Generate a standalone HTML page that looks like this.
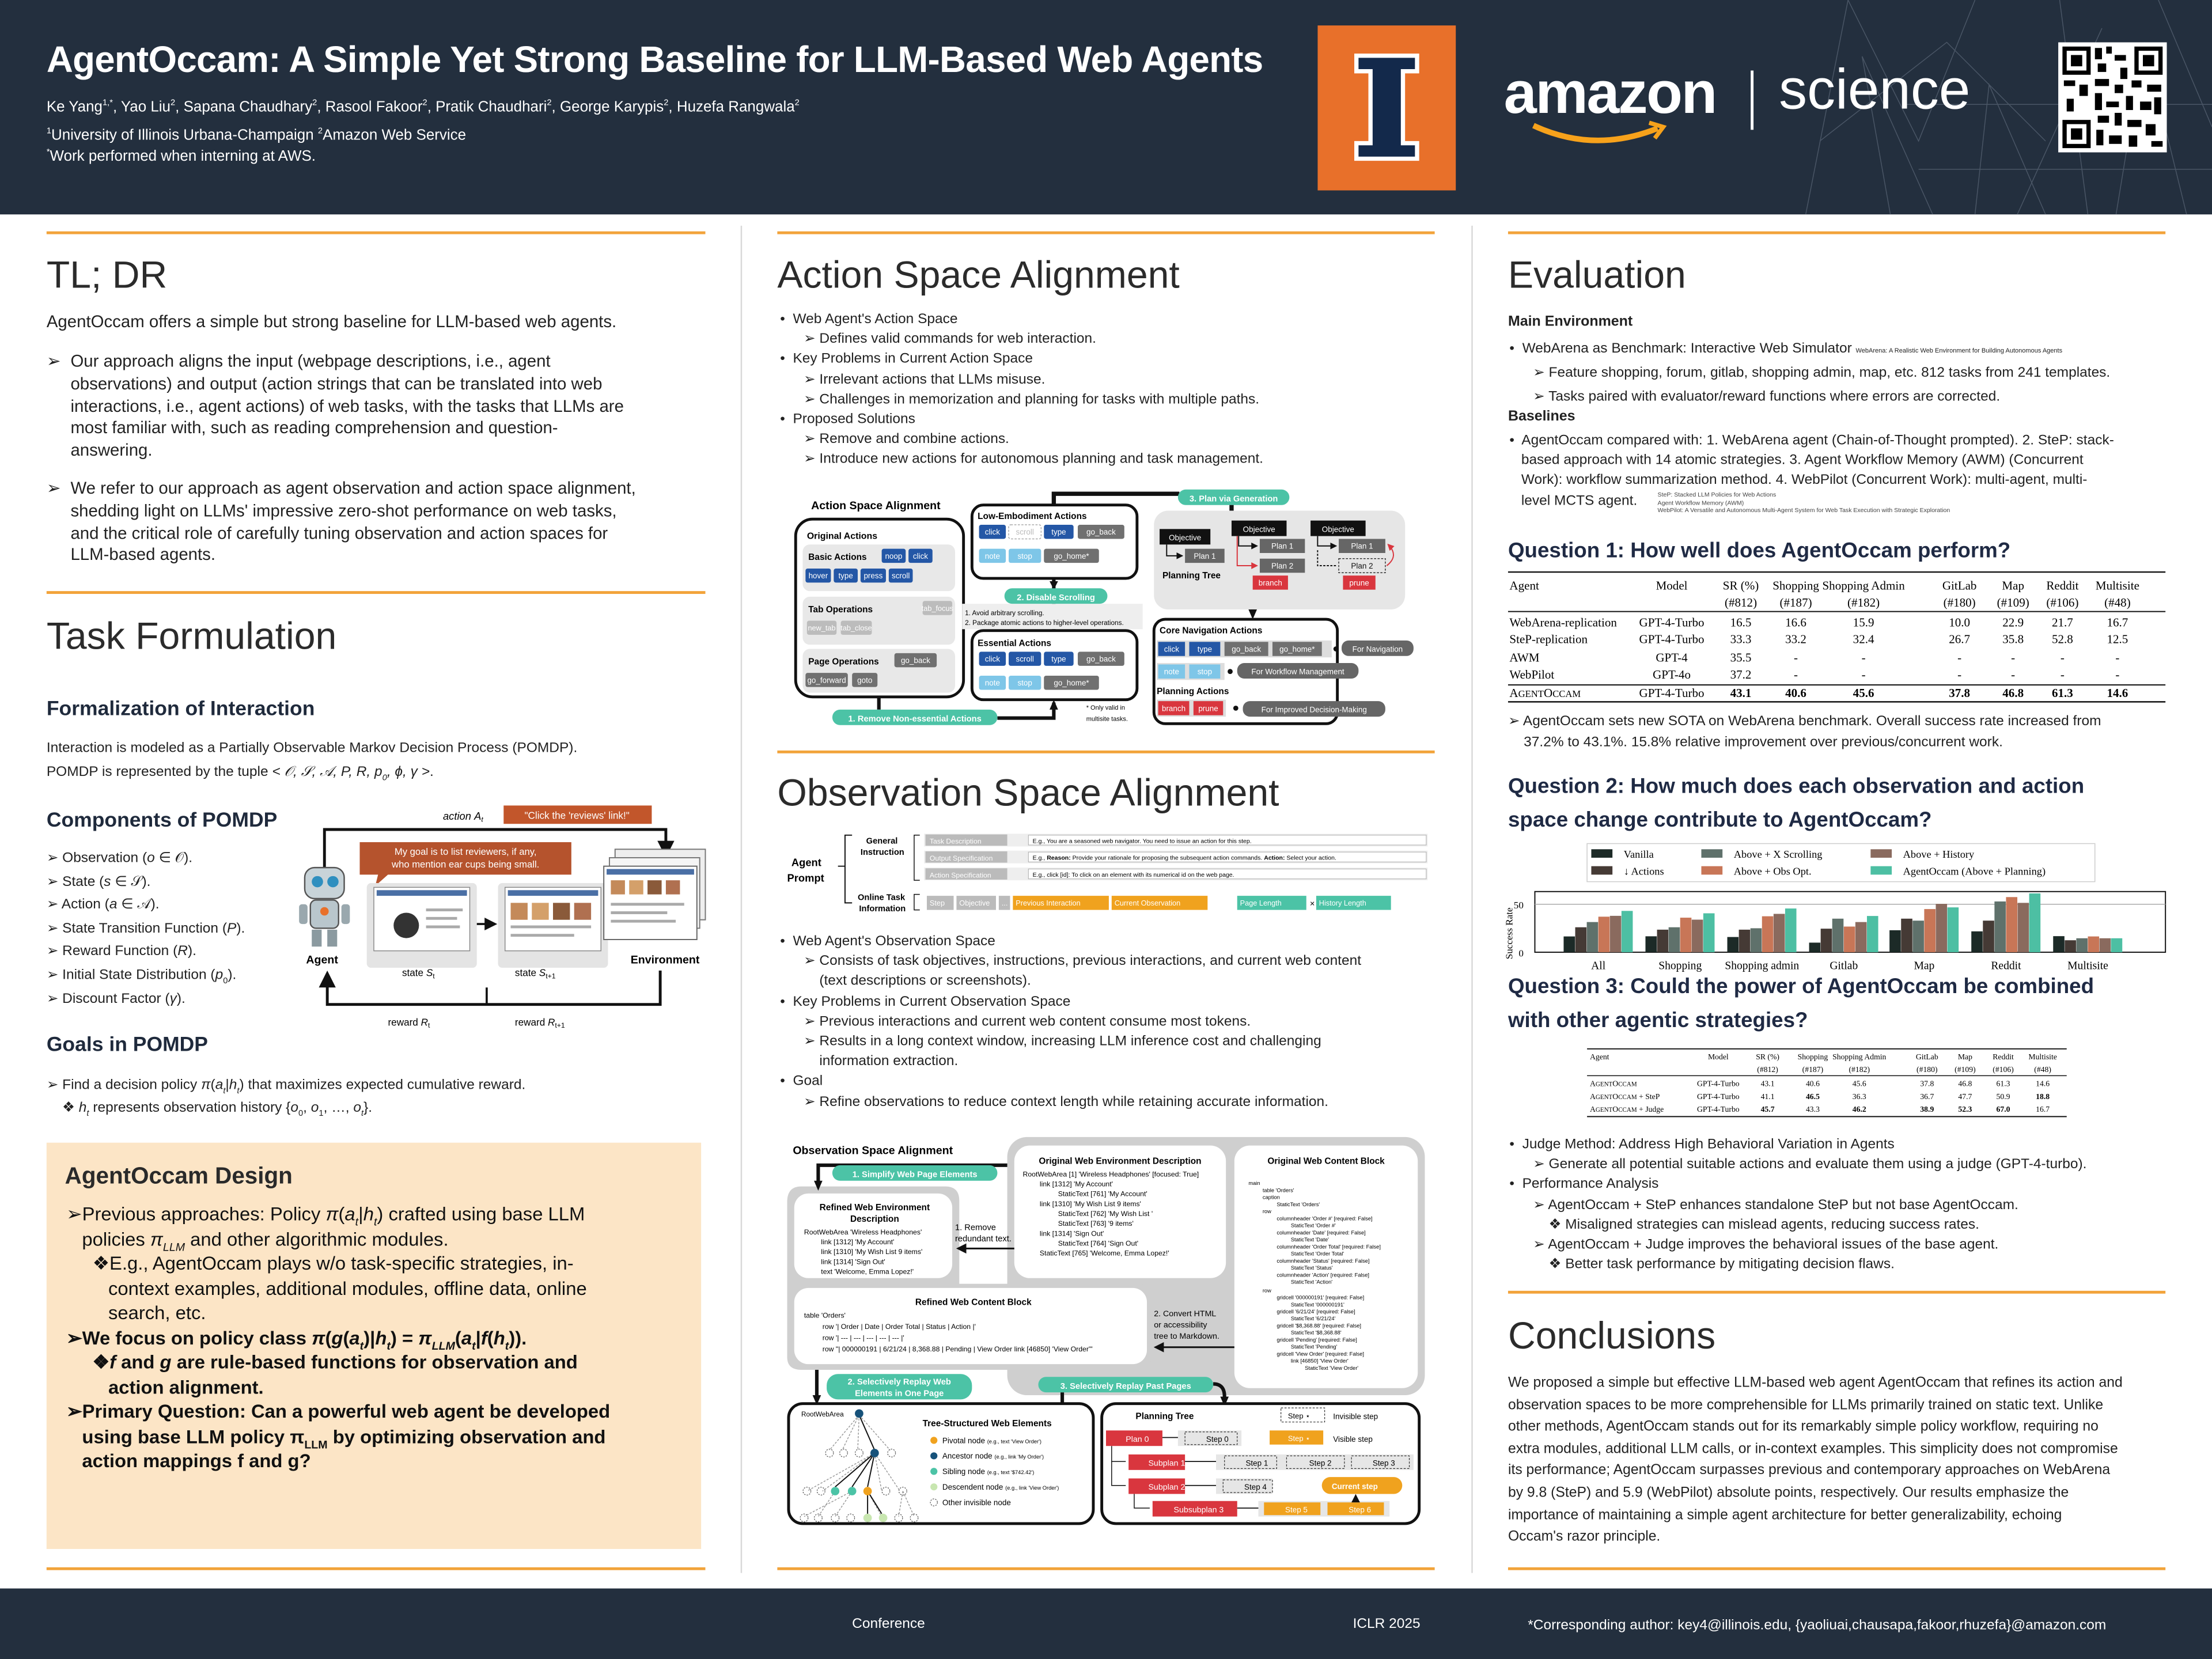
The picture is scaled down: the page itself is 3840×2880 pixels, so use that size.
<!DOCTYPE html>
<html><head><meta charset="utf-8">
<style>
html,body{margin:0;padding:0;background:#fff;}
body{width:3840px;height:2880px;overflow:hidden;}
#p{position:absolute;left:0;top:0;width:1568px;height:1176px;transform:scale(2.44898);transform-origin:0 0;background:#fff;font-family:"Liberation Sans",sans-serif;color:#222;overflow:hidden;}
sub,sup{line-height:0;}
.a{position:absolute;white-space:nowrap;}
.h1{font-size:27px;color:#2b2b2b;}
.h2{font-size:14.5px;font-weight:bold;color:#1f2a3c;}
.q{font-size:15px;font-weight:bold;color:#1f2a44;line-height:24px;}
.b10{font-size:10px;line-height:14.2px;color:#222;}
.b12{font-size:12px;line-height:15.8px;color:#222;}
.ol{position:absolute;height:2px;background:#f2a33a;}
</style></head><body><div id="p">

<!-- header -->
<div class="a" style="left:0;top:0;width:1568px;height:152px;background:#232f3e;"></div>
<svg class="a" style="left:1250px;top:0" width="318" height="152"><g stroke="#4a5666" stroke-width="0.6" fill="none">
<path d="M30 152 L60 0 M90 152 L70 40 L120 152 M150 152 L160 60 L200 152 M210 0 L230 152 M250 152 L270 30 L300 152 M280 0 L318 90 M60 0 L110 100 L150 0 M180 152 L240 20 M100 74 L318 74 M110 120 L318 120 M40 100 L130 30 L200 100"/></g></svg>
<div class="a" style="left:33px;top:27px;font-size:26px;font-weight:bold;color:#fff;letter-spacing:-0.3px;">AgentOccam: A Simple Yet Strong Baseline for LLM-Based Web Agents</div>
<div class="a" style="left:33px;top:70px;font-size:10.6px;color:#fff;">Ke Yang<sup style="font-size:6px">1,*</sup>, Yao Liu<sup style="font-size:6px">2</sup>, Sapana Chaudhary<sup style="font-size:6px">2</sup>, Rasool Fakoor<sup style="font-size:6px">2</sup>, Pratik Chaudhari<sup style="font-size:6px">2</sup>, George Karypis<sup style="font-size:6px">2</sup>, Huzefa Rangwala<sup style="font-size:6px">2</sup></div>
<div class="a" style="left:33px;top:90px;font-size:10.6px;color:#fff;"><sup style="font-size:6px">1</sup>University of Illinois Urbana-Champaign <sup style="font-size:6px">2</sup>Amazon Web Service</div>
<div class="a" style="left:33px;top:105px;font-size:10.6px;color:#fff;"><sup style="font-size:6px">*</sup>Work performed when interning at AWS.</div>
<svg class="a" style="left:934px;top:18px" width="98" height="117">
<rect width="98" height="117" fill="#e8702a"/>
<path d="M26 20 H72 V34 H62 V82 H72 V96 H26 V82 H36 V34 H26 Z" fill="#fff"/>
<path d="M29 23 H69 V31 H59 V85 H69 V93 H29 V85 H39 V31 H29 Z" fill="#13294b"/>
</svg>
<div class="a" style="left:1066px;top:42px;font-size:42px;font-weight:bold;color:#fff;letter-spacing:-1px;">amazon</div>
<svg class="a" style="left:1085px;top:85px" width="100" height="22"><path d="M2 4 Q45 24 90 6" stroke="#f7a21b" stroke-width="4" fill="none"/><path d="M84 2 L94 5 L88 13" stroke="#f7a21b" stroke-width="3" fill="none"/></svg>
<div class="a" style="left:1241px;top:50px;width:1.5px;height:42px;background:#fff;"></div>
<div class="a" style="left:1261px;top:42px;font-size:40px;color:#fff;">science</div>
<svg class="a" style="left:1459px;top:30px" width="77" height="78">
<rect width="77" height="78" fill="#fff"/>
<g fill="#000">
<rect x="3" y="3" width="20" height="20"/><rect x="54" y="3" width="20" height="20"/><rect x="3" y="55" width="20" height="20"/>
<rect x="26" y="4" width="5" height="8"/><rect x="34" y="3" width="4" height="5"/><rect x="40" y="9" width="8" height="4"/><rect x="28" y="15" width="6" height="6"/><rect x="44" y="18" width="5" height="8"/>
<rect x="4" y="27" width="8" height="4"/><rect x="15" y="30" width="6" height="8"/><rect x="26" y="26" width="10" height="5"/><rect x="40" y="30" width="6" height="6"/><rect x="52" y="27" width="7" height="5"/><rect x="63" y="30" width="10" height="5"/>
<rect x="6" y="40" width="5" height="9"/><rect x="26" y="36" width="5" height="12"/><rect x="34" y="42" width="9" height="4"/><rect x="48" y="38" width="5" height="10"/><rect x="58" y="42" width="8" height="6"/><rect x="68" y="39" width="5" height="12"/>
<rect x="28" y="52" width="8" height="5"/><rect x="40" y="50" width="5" height="9"/><rect x="49" y="55" width="10" height="5"/><rect x="62" y="58" width="7" height="8"/><rect x="27" y="62" width="5" height="11"/><rect x="36" y="66" width="9" height="6"/><rect x="50" y="66" width="6" height="8"/><rect x="66" y="70" width="8" height="4"/>
</g>
<g fill="#fff"><rect x="6" y="6" width="14" height="14"/><rect x="57" y="6" width="14" height="14"/><rect x="6" y="58" width="14" height="14"/></g>
<g fill="#000"><rect x="9" y="9" width="8" height="8"/><rect x="60" y="9" width="8" height="8"/><rect x="9" y="61" width="8" height="8"/></g>
</svg>

<!-- footer -->
<div class="a" style="left:0;top:1126px;width:1568px;height:50px;background:#232f3e;"></div>
<div class="a" style="left:604px;top:1146px;font-size:10px;color:#fff;">Conference</div>
<div class="a" style="left:959px;top:1146px;font-size:10px;color:#fff;">ICLR 2025</div>
<div class="a" style="left:1083px;top:1147px;font-size:10px;color:#fff;">*Corresponding author: key4@illinois.edu, {yaoliuai,chausapa,fakoor,rhuzefa}@amazon.com</div>

<!-- separators -->
<div class="a" style="left:525px;top:160px;width:1px;height:955px;background:#d8d8d8;"></div>
<div class="a" style="left:1043px;top:160px;width:1px;height:955px;background:#d8d8d8;"></div>
<div class="ol" style="left:33px;top:164px;width:467px;"></div>
<div class="ol" style="left:551px;top:164px;width:466px;"></div>
<div class="ol" style="left:1069px;top:164px;width:466px;"></div>
<div class="ol" style="left:33px;top:419px;width:467px;"></div>
<div class="ol" style="left:551px;top:532px;width:466px;"></div>
<div class="ol" style="left:1069px;top:915px;width:466px;"></div>
<div class="ol" style="left:33px;top:1111px;width:467px;"></div>
<div class="ol" style="left:551px;top:1111px;width:466px;"></div>
<div class="ol" style="left:1069px;top:1111px;width:466px;"></div>

<!-- COLUMN 1 -->
<div class="a h1" style="left:33px;top:180px;">TL; DR</div>
<div class="a b12" style="left:33px;top:221px;">AgentOccam offers a simple but strong baseline for LLM-based web agents.</div>
<div class="a b12" style="left:33px;top:249px;">➢</div>
<div class="a b12" style="left:50px;top:249px;">Our approach aligns the input (webpage descriptions, i.e., agent<br>observations) and output (action strings that can be translated into web<br>interactions, i.e., agent actions) of web tasks, with the tasks that LLMs are<br>most familiar with, such as reading comprehension and question-<br>answering.</div>
<div class="a b12" style="left:33px;top:339px;">➢</div>
<div class="a b12" style="left:50px;top:339px;">We refer to our approach as agent observation and action space alignment,<br>shedding light on LLMs' impressive zero-shot performance on web tasks,<br>and the critical role of carefully tuning observation and action spaces for<br>LLM-based agents.</div>

<div class="a h1" style="left:33px;top:436px;">Task Formulation</div>
<div class="a h2" style="left:33px;top:495px;">Formalization of Interaction</div>
<div class="a b10" style="left:33px;top:523px;line-height:16.5px;">Interaction is modeled as a Partially Observable Markov Decision Process (POMDP).<br>POMDP is represented by the tuple <i>&lt; 𝒪, 𝒮, 𝒜, P, R, p<sub style="font-size:6px">0</sub>, ϕ, γ &gt;</i>.</div>
<div class="a h2" style="left:33px;top:574px;">Components of POMDP</div>
<div class="a b10" style="left:33px;top:601px;line-height:16.6px;">➢ Observation (<i>o</i> ∈ 𝒪).<br>➢ State (<i>s</i> ∈ 𝒮).<br>➢ Action (<i>a</i> ∈ 𝒜).<br>➢ State Transition Function (<i>P</i>).<br>➢ Reward Function (<i>R</i>).<br>➢ Initial State Distribution (<i>p</i><sub style="font-size:6px">0</sub>).<br>➢ Discount Factor (<i>γ</i>).</div>
<div class="a h2" style="left:33px;top:733px;">Goals in POMDP</div>
<div class="a b10" style="left:33px;top:762px;line-height:16px;">➢ Find a decision policy <i>π</i>(<i>a<sub style="font-size:6px">t</sub></i>|<i>h<sub style="font-size:6px">t</sub></i>) that maximizes expected cumulative reward.<br>&nbsp;&nbsp;&nbsp;&nbsp;❖ <i>h<sub style="font-size:6px">t</sub></i> represents observation history {<i>o</i><sub style="font-size:6px">0</sub>, <i>o</i><sub style="font-size:6px">1</sub>, …, <i>o<sub style="font-size:6px">t</sub></i>}.</div>

<div class="a" style="left:33px;top:810px;width:464px;height:288px;background:#fce5c6;"></div>
<div class="a" style="left:46px;top:825px;font-size:16.5px;font-weight:bold;color:#2a2a2a;">AgentOccam Design</div>
<div class="a" style="left:47px;top:852px;font-size:13.4px;line-height:17.5px;color:#111;">➢Previous approaches: Policy <i>π</i>(<i>a<sub style="font-size:8px">t</sub></i>|<i>h<sub style="font-size:8px">t</sub></i>) crafted using base LLM<br>&nbsp;&nbsp;&nbsp;policies <i>π<sub style="font-size:8px">LLM</sub></i> and other algorithmic modules.<br>&nbsp;&nbsp;&nbsp;&nbsp;&nbsp;❖E.g., AgentOccam plays w/o task-specific strategies, in-<br>&nbsp;&nbsp;&nbsp;&nbsp;&nbsp;&nbsp;&nbsp;&nbsp;context examples, additional modules, offline data, online<br>&nbsp;&nbsp;&nbsp;&nbsp;&nbsp;&nbsp;&nbsp;&nbsp;search, etc.<br><b>➢We focus on policy class <i>π</i>(<i>g</i>(<i>a<sub style="font-size:8px">t</sub></i>)|<i>h<sub style="font-size:8px">t</sub></i>) = <i>π<sub style="font-size:8px">LLM</sub></i>(<i>a<sub style="font-size:8px">t</sub></i>|<i>f</i>(<i>h<sub style="font-size:8px">t</sub></i>)).<br>&nbsp;&nbsp;&nbsp;&nbsp;&nbsp;❖<i>f</i> and <i>g</i> are rule-based functions for observation and<br>&nbsp;&nbsp;&nbsp;&nbsp;&nbsp;&nbsp;&nbsp;&nbsp;action alignment.<br>➢Primary Question: Can a powerful web agent be developed<br>&nbsp;&nbsp;&nbsp;using base LLM policy π<sub style="font-size:8px">LLM</sub> by optimizing observation and<br>&nbsp;&nbsp;&nbsp;action mappings f and g?</b></div>

<!-- COLUMN 2 -->
<div class="a h1" style="left:551px;top:180px;">Action Space Alignment</div>
<div class="a b10" style="left:553px;top:220px;">•&nbsp; Web Agent's Action Space<br>&nbsp;&nbsp;&nbsp;&nbsp;&nbsp;&nbsp;➢ Defines valid commands for web interaction.<br>•&nbsp; Key Problems in Current Action Space<br>&nbsp;&nbsp;&nbsp;&nbsp;&nbsp;&nbsp;➢ Irrelevant actions that LLMs misuse.<br>&nbsp;&nbsp;&nbsp;&nbsp;&nbsp;&nbsp;➢ Challenges in memorization and planning for tasks with multiple paths.<br>•&nbsp; Proposed Solutions<br>&nbsp;&nbsp;&nbsp;&nbsp;&nbsp;&nbsp;➢ Remove and combine actions.<br>&nbsp;&nbsp;&nbsp;&nbsp;&nbsp;&nbsp;➢ Introduce new actions for autonomous planning and task management.</div>
<div class="a h1" style="left:551px;top:547px;">Observation Space Alignment</div>
<div class="a b10" style="left:553px;top:661px;">•&nbsp; Web Agent's Observation Space<br>&nbsp;&nbsp;&nbsp;&nbsp;&nbsp;&nbsp;➢ Consists of task objectives, instructions, previous interactions, and current web content<br>&nbsp;&nbsp;&nbsp;&nbsp;&nbsp;&nbsp;&nbsp;&nbsp;&nbsp;&nbsp;(text descriptions or screenshots).<br>•&nbsp; Key Problems in Current Observation Space<br>&nbsp;&nbsp;&nbsp;&nbsp;&nbsp;&nbsp;➢ Previous interactions and current web content consume most tokens.<br>&nbsp;&nbsp;&nbsp;&nbsp;&nbsp;&nbsp;➢ Results in a long context window, increasing LLM inference cost and challenging<br>&nbsp;&nbsp;&nbsp;&nbsp;&nbsp;&nbsp;&nbsp;&nbsp;&nbsp;&nbsp;information extraction.<br>•&nbsp; Goal<br>&nbsp;&nbsp;&nbsp;&nbsp;&nbsp;&nbsp;➢ Refine observations to reduce context length while retaining accurate information.</div>

<!-- COLUMN 3 -->
<div class="a h1" style="left:1069px;top:180px;">Evaluation</div>
<div class="a" style="left:1069px;top:223px;font-size:10.2px;font-weight:bold;">Main Environment</div>
<div class="a b10" style="left:1070px;top:240px;line-height:16.3px;">•&nbsp; WebArena as Benchmark: Interactive Web Simulator <span style="font-size:4.5px">WebArena: A Realistic Web Environment for Building Autonomous Agents</span><br>&nbsp;&nbsp;&nbsp;&nbsp;&nbsp;&nbsp;➢ Feature shopping, forum, gitlab, shopping admin, map, etc. 812 tasks from 241 templates.<br>&nbsp;&nbsp;&nbsp;&nbsp;&nbsp;&nbsp;➢ Tasks paired with evaluator/reward functions where errors are corrected.</div>
<div class="a" style="left:1069px;top:290px;font-size:10.2px;font-weight:bold;">Baselines</div>
<div class="a b10" style="left:1070px;top:306px;">•&nbsp; AgentOccam compared with: 1. WebArena agent (Chain-of-Thought prompted). 2. SteP: stack-<br>&nbsp;&nbsp;&nbsp;based approach with 14 atomic strategies. 3. Agent Workflow Memory (AWM) (Concurrent<br>&nbsp;&nbsp;&nbsp;Work): workflow summarization method. 4. WebPilot (Concurrent Work): multi-agent, multi-<br>&nbsp;&nbsp;&nbsp;level MCTS agent.</div>
<div class="a" style="left:1175px;top:348px;font-size:4.3px;line-height:5.5px;color:#444;">SteP: Stacked LLM Policies for Web Actions<br>Agent Workflow Memory (AWM)<br>WebPilot: A Versatile and Autonomous Multi-Agent System for Web Task Execution with Strategic Exploration</div>
<div class="a q" style="left:1069px;top:379px;">Question 1: How well does AgentOccam perform?</div>
<div class="a b10" style="left:1069px;top:504px;line-height:15px;">➢ AgentOccam sets new SOTA on WebArena benchmark. Overall success rate increased from<br>&nbsp;&nbsp;&nbsp;&nbsp;37.2% to 43.1%. 15.8% relative improvement over previous/concurrent work.</div>
<div class="a q" style="left:1069px;top:546px;">Question 2: How much does each observation and action<br>space change contribute to AgentOccam?</div>
<div class="a q" style="left:1069px;top:688px;">Question 3: Could the power of AgentOccam be combined<br>with other agentic strategies?</div>
<div class="a b10" style="left:1070px;top:805px;">•&nbsp; Judge Method: Address High Behavioral Variation in Agents<br>&nbsp;&nbsp;&nbsp;&nbsp;&nbsp;&nbsp;➢ Generate all potential suitable actions and evaluate them using a judge (GPT-4-turbo).<br>•&nbsp; Performance Analysis<br>&nbsp;&nbsp;&nbsp;&nbsp;&nbsp;&nbsp;➢ AgentOccam + SteP enhances standalone SteP but not base AgentOccam.<br>&nbsp;&nbsp;&nbsp;&nbsp;&nbsp;&nbsp;&nbsp;&nbsp;&nbsp;&nbsp;❖ Misaligned strategies can mislead agents, reducing success rates.<br>&nbsp;&nbsp;&nbsp;&nbsp;&nbsp;&nbsp;➢ AgentOccam + Judge improves the behavioral issues of the base agent.<br>&nbsp;&nbsp;&nbsp;&nbsp;&nbsp;&nbsp;&nbsp;&nbsp;&nbsp;&nbsp;❖ Better task performance by mitigating decision flaws.</div>
<div class="a h1" style="left:1069px;top:932px;">Conclusions</div>
<div class="a" style="left:1069px;top:973px;font-size:10.1px;line-height:15.6px;color:#222;">We proposed a simple but effective LLM-based web agent AgentOccam that refines its action and<br>observation spaces to be more comprehensible for LLMs primarily trained on static text. Unlike<br>other methods, AgentOccam stands out for its remarkably simple policy workflow, requiring no<br>extra modules, additional LLM calls, or in-context examples. This simplicity does not compromise<br>its performance; AgentOccam surpasses previous and contemporary approaches on WebArena<br>by 9.8 (SteP) and 5.9 (WebPilot) absolute points, respectively. Our results emphasize the<br>importance of maintaining a simple agent architecture for better generalizability, echoing<br>Occam's razor principle.</div>

<!-- ALL DIAGRAMS -->
<svg class="a" style="left:0;top:0" width="1568" height="1176" font-family="Liberation Sans, sans-serif">
<defs>
<marker id="ar" markerWidth="6" markerHeight="6" refX="5" refY="3" orient="auto"><path d="M0 0 L6 3 L0 6 Z" fill="#111"/></marker>
<marker id="arr" markerWidth="6" markerHeight="6" refX="5" refY="3" orient="auto"><path d="M0 0 L6 3 L0 6 Z" fill="#d9363e"/></marker>
</defs>

<!-- POMDP figure -->
<g>
<path d="M230 615 V588 H472 V606" stroke="#111" stroke-width="2" fill="none" marker-end="url(#ar)"/>
<text x="314" y="581" font-size="7.5" font-style="italic">action <tspan>A</tspan><tspan font-size="5" dy="1.5">t</tspan></text>
<rect x="357" y="571" width="105" height="13" fill="#c2562b"/>
<text x="409" y="580.5" font-size="7" fill="#fff" text-anchor="middle">"Click the 'reviews' link!"</text>
<path d="M255 597 H405 V620 H275 L266 628 L268 620 H255 Z" fill="#b5532d"/>
<text x="330" y="606" font-size="6.8" fill="#fff" text-anchor="middle">My goal is to list reviewers, if any,</text>
<text x="330" y="615" font-size="6.8" fill="#fff" text-anchor="middle">who mention ear cups being small.</text>
<rect x="216" y="615" width="28" height="22" rx="7" fill="#c8d3d8" stroke="#555" stroke-width="1"/>
<circle cx="225" cy="625" r="4" fill="#2f8fbf"/><circle cx="236" cy="625" r="4" fill="#2f8fbf"/>
<rect x="220" y="638" width="20" height="20" rx="4" fill="#b9c6cc" stroke="#555" stroke-width="1"/>
<circle cx="230" cy="646" r="3" fill="#e8702a"/>
<rect x="212" y="641" width="6" height="14" rx="2" fill="#9aa8ae"/><rect x="242" y="641" width="6" height="14" rx="2" fill="#9aa8ae"/>
<rect x="221" y="659" width="7" height="12" fill="#8b9aa0"/><rect x="232" y="659" width="7" height="12" fill="#8b9aa0"/>
<text x="217" y="683" font-size="8" font-weight="bold">Agent</text>
<rect x="260" y="626" width="78" height="60" rx="3" fill="#e4e4e4"/>
<rect x="265" y="629" width="68" height="45" fill="#fff" stroke="#888" stroke-width="0.6"/>
<rect x="267" y="631" width="64" height="4" fill="#4a6fa5"/>
<circle cx="288" cy="656" r="9" fill="#333"/><rect x="302" y="644" width="26" height="2" fill="#aaa"/><rect x="302" y="650" width="22" height="2" fill="#aaa"/><rect x="302" y="656" width="24" height="2" fill="#aaa"/>
<text x="285" y="692" font-size="7">state <tspan font-style="italic">S</tspan><tspan font-size="5" dy="1.5">t</tspan></text>
<rect x="353" y="626" width="78" height="60" rx="3" fill="#e4e4e4"/>
<rect x="358" y="629" width="68" height="45" fill="#fff" stroke="#888" stroke-width="0.6"/>
<rect x="360" y="631" width="64" height="4" fill="#4a6fa5"/>
<rect x="362" y="640" width="12" height="12" fill="#c48a5a"/><rect x="377" y="640" width="12" height="12" fill="#d4a06a"/><rect x="392" y="640" width="12" height="12" fill="#8a5a3a"/><rect x="407" y="640" width="12" height="12" fill="#b07050"/>
<rect x="362" y="656" width="57" height="2" fill="#aaa"/><rect x="362" y="662" width="45" height="2" fill="#aaa"/>
<text x="365" y="692" font-size="7">state <tspan font-style="italic">S</tspan><tspan font-size="5" dy="1.5">t+1</tspan></text>
<path d="M338 655 H351" stroke="#111" stroke-width="1.5" marker-end="url(#ar)"/>
<rect x="436" y="602" width="64" height="50" fill="#eee" stroke="#777" stroke-width="0.8"/>
<rect x="432" y="608" width="64" height="50" fill="#f5f5f5" stroke="#777" stroke-width="0.8"/>
<rect x="428" y="614" width="66" height="52" fill="#fff" stroke="#666" stroke-width="0.8"/>
<rect x="430" y="616" width="62" height="4" fill="#4a6fa5"/>
<rect x="433" y="624" width="10" height="10" fill="#c48a5a"/><rect x="446" y="624" width="10" height="10" fill="#d4a06a"/><rect x="459" y="624" width="10" height="10" fill="#8a5a3a"/><rect x="472" y="624" width="10" height="10" fill="#b07050"/>
<rect x="433" y="640" width="52" height="2" fill="#aaa"/><rect x="433" y="646" width="40" height="2" fill="#aaa"/><rect x="433" y="652" width="46" height="2" fill="#aaa"/>
<text x="447" y="683" font-size="8" font-weight="bold">Environment</text>
<path d="M468 688 V712 H232 V690" stroke="#111" stroke-width="2" fill="none" marker-end="url(#ar)"/>
<path d="M345 700 V712" stroke="#111" stroke-width="1.5"/>
<text x="275" y="727" font-size="7">reward <tspan font-style="italic">R</tspan><tspan font-size="5" dy="1.5">t</tspan></text>
<text x="365" y="727" font-size="7">reward <tspan font-style="italic">R</tspan><tspan font-size="5" dy="1.5">t+1</tspan></text>
</g>

<!-- ACTION SPACE FIGURE -->
<g font-size="6">
<text x="575" y="361" font-size="8" font-weight="bold">Action Space Alignment</text>
<path d="M747 358 V350 H836" stroke="#111" stroke-width="3" fill="none"/>
<rect x="835" y="347" width="79" height="11" rx="5.5" fill="#4cc3a6"/>
<text x="874.5" y="355.5" fill="#fff" font-weight="bold" text-anchor="middle">3. Plan via Generation</text>
<path d="M873 358 V363" stroke="#111" stroke-width="3"/>
<rect x="564" y="368" width="119" height="126" rx="12" fill="#fff" stroke="#111" stroke-width="2"/>
<text x="572" y="382" font-size="6.5" font-weight="bold">Original Actions</text>
<rect x="569" y="386" width="108" height="33" rx="5" fill="#e8e8e8"/>
<text x="573" y="397" font-size="6.3" font-weight="bold">Basic Actions</text>
<g fill="#2457a6"><rect x="625" y="389" width="17" height="10" rx="1.5"/><rect x="644" y="389" width="17" height="10" rx="1.5"/><rect x="571" y="403" width="18" height="10" rx="1.5"/><rect x="591" y="403" width="17" height="10" rx="1.5"/><rect x="610" y="403" width="18" height="10" rx="1.5"/><rect x="630" y="403" width="17" height="10" rx="1.5"/></g>
<g fill="#fff" font-size="5.5" text-anchor="middle"><text x="633.5" y="396">noop</text><text x="652.5" y="396">click</text><text x="580" y="410">hover</text><text x="599.5" y="410">type</text><text x="619" y="410">press</text><text x="638.5" y="410">scroll</text></g>
<rect x="569" y="423" width="108" height="34" rx="5" fill="#e8e8e8"/>
<text x="573" y="434" font-size="6.3" font-weight="bold">Tab Operations</text>
<g fill="#bcbcbc"><rect x="654" y="426" width="21" height="10" rx="1.5"/><rect x="572" y="440" width="21" height="10" rx="1.5"/><rect x="596" y="440" width="22" height="10" rx="1.5"/></g>
<g fill="#fff" font-size="5.2" text-anchor="middle"><text x="664.5" y="433">tab_focus</text><text x="582.5" y="447">new_tab</text><text x="607" y="447">tab_close</text></g>
<rect x="569" y="460" width="108" height="31" rx="5" fill="#e8e8e8"/>
<text x="573" y="471" font-size="6.3" font-weight="bold">Page Operations</text>
<g fill="#707070"><rect x="634" y="463" width="30" height="10" rx="1.5"/><rect x="571" y="477" width="30" height="10" rx="1.5"/><rect x="604" y="477" width="18" height="10" rx="1.5"/></g>
<g fill="#fff" font-size="5.5" text-anchor="middle"><text x="649" y="470">go_back</text><text x="586" y="484">go_forward</text><text x="613" y="484">goto</text></g>

<rect x="689" y="358" width="117" height="52" rx="8" fill="#fff" stroke="#111" stroke-width="2"/>
<text x="693" y="368" font-size="6.3" font-weight="bold">Low-Embodiment Actions</text>
<rect x="694" y="372" width="19" height="10" rx="1.5" fill="#2457a6"/><rect x="715" y="372" width="23" height="10" rx="1.5" fill="#fff" stroke="#aaa" stroke-width="0.6" stroke-dasharray="1.5 1"/><rect x="740" y="372" width="21" height="10" rx="1.5" fill="#2457a6"/><rect x="764" y="372" width="33" height="10" rx="1.5" fill="#707070"/>
<rect x="694" y="389" width="19" height="10" rx="1.5" fill="#7ec6e8"/><rect x="715" y="389" width="23" height="10" rx="1.5" fill="#7ec6e8"/><rect x="740" y="389" width="39" height="10" rx="1.5" fill="#707070"/>
<g font-size="5.5" text-anchor="middle" fill="#fff"><text x="703.5" y="379">click</text><text x="726.5" y="379" fill="#bbb">scroll</text><text x="750.5" y="379">type</text><text x="780.5" y="379">go_back</text><text x="703.5" y="396">note</text><text x="726.5" y="396">stop</text><text x="759.5" y="396">go_home*</text></g>
<path d="M747 410 V447" stroke="#111" stroke-width="2.5"/>
<path d="M747 418 L744 412 L750 412 Z" fill="#111"/>
<rect x="682" y="428" width="128" height="18" fill="#eeeeee"/>
<rect x="712" y="417" width="73" height="11" rx="5.5" fill="#4cc3a6"/>
<text x="748.5" y="425.5" fill="#fff" font-weight="bold" text-anchor="middle">2. Disable Scrolling</text>
<text x="684" y="436" font-size="4.8">1. Avoid arbitrary scrolling.</text>
<text x="684" y="443" font-size="4.8">2. Package atomic actions to higher-level operations.</text>
<rect x="689" y="447" width="117" height="49" rx="8" fill="#fff" stroke="#111" stroke-width="2"/>
<text x="693" y="458" font-size="6.3" font-weight="bold">Essential Actions</text>
<rect x="694" y="462" width="19" height="10" rx="1.5" fill="#2457a6"/><rect x="715" y="462" width="23" height="10" rx="1.5" fill="#2457a6"/><rect x="740" y="462" width="21" height="10" rx="1.5" fill="#2457a6"/><rect x="764" y="462" width="33" height="10" rx="1.5" fill="#707070"/>
<rect x="694" y="479" width="19" height="10" rx="1.5" fill="#7ec6e8"/><rect x="715" y="479" width="23" height="10" rx="1.5" fill="#7ec6e8"/><rect x="740" y="479" width="39" height="10" rx="1.5" fill="#707070"/>
<g font-size="5.5" text-anchor="middle" fill="#fff"><text x="703.5" y="469">click</text><text x="726.5" y="469">scroll</text><text x="750.5" y="469">type</text><text x="780.5" y="469">go_back</text><text x="703.5" y="486">note</text><text x="726.5" y="486">stop</text><text x="759.5" y="486">go_home*</text></g>
<path d="M623 494 V503" stroke="#111" stroke-width="2.5"/>
<path d="M707 509 H747 V498" stroke="#111" stroke-width="2.5" fill="none"/>
<path d="M747 496 L744 503 L750 503 Z" fill="#111"/>
<rect x="590" y="503" width="117" height="11" rx="5.5" fill="#4cc3a6"/>
<text x="648.5" y="511.5" fill="#fff" font-weight="bold" text-anchor="middle">1. Remove Non-essential Actions</text>
<text x="770" y="503" font-size="4.5">* Only valid in</text><text x="770" y="511" font-size="4.5">multisite tasks.</text>

<rect x="818" y="362" width="178" height="70" rx="10" fill="#e6e6e6"/>
<rect x="822" y="375" width="36" height="11" fill="#111"/><text x="840" y="383" fill="#fff" font-size="5.5" text-anchor="middle">Objective</text>
<rect x="873" y="369" width="39" height="11" fill="#111"/><text x="892.5" y="377" fill="#fff" font-size="5.5" text-anchor="middle">Objective</text>
<rect x="929" y="369" width="39" height="11" fill="#111"/><text x="948.5" y="377" fill="#fff" font-size="5.5" text-anchor="middle">Objective</text>
<g fill="#666"><rect x="840" y="389" width="28" height="10"/><rect x="893" y="382" width="32" height="10"/><rect x="893" y="396" width="32" height="10"/><rect x="949" y="382" width="33" height="10"/></g>
<rect x="949" y="396" width="33" height="10" fill="#e6e6e6" stroke="#333" stroke-width="0.6" stroke-dasharray="1.5 1"/>
<g font-size="5.5" text-anchor="middle" fill="#fff"><text x="854" y="396">Plan 1</text><text x="909" y="389">Plan 1</text><text x="909" y="403">Plan 2</text><text x="965.5" y="389">Plan 1</text><text x="965.5" y="403" fill="#111">Plan 2</text></g>
<path d="M827 386 V394 H838" stroke="#111" stroke-width="0.8" fill="none" marker-end="url(#ar)"/>
<path d="M878 380 V387 H891" stroke="#111" stroke-width="0.8" fill="none" marker-end="url(#ar)"/>
<path d="M877 380 V401 H891" stroke="#d9363e" stroke-width="0.8" fill="none" marker-end="url(#arr)"/>
<path d="M934 380 V387 H947" stroke="#111" stroke-width="0.8" fill="none" marker-end="url(#ar)"/>
<path d="M934 390 V401 H947" stroke="#111" stroke-width="0.8" stroke-dasharray="1.5 1" fill="none"/>
<path d="M983 401 Q992 394 984 386" stroke="#d9363e" stroke-width="0.8" fill="none" marker-end="url(#arr)"/>
<text x="824" y="410" font-size="6.3" font-weight="bold">Planning Tree</text>
<rect x="888" y="408" width="25" height="10" fill="#d9363e"/><text x="900.5" y="415" fill="#fff" font-size="5.5" text-anchor="middle">branch</text>
<rect x="952" y="408" width="23" height="10" fill="#d9363e"/><text x="963.5" y="415" fill="#fff" font-size="5.5" text-anchor="middle">prune</text>
<path d="M888 432 V436" stroke="#111" stroke-width="2.5"/><path d="M888 439 L885 432 L891 432 Z" fill="#111"/>
<rect x="818" y="439" width="130" height="74" rx="8" fill="#fff" stroke="#111" stroke-width="2"/>
<text x="822" y="449" font-size="6.3" font-weight="bold">Core Navigation Actions</text>
<rect x="820" y="454" width="124" height="12" fill="#dddddd"/>
<rect x="821" y="455" width="19" height="10" fill="#2457a6"/><rect x="843" y="455" width="22" height="10" fill="#2457a6"/><rect x="868" y="455" width="31" height="10" fill="#707070"/><rect x="902" y="455" width="35" height="10" fill="#707070"/>
<rect x="820" y="470" width="48" height="12" fill="#dddddd"/>
<rect x="821" y="471" width="19" height="10" fill="#7ec6e8"/><rect x="843" y="471" width="22" height="10" fill="#7ec6e8"/>
<text x="820" y="492" font-size="6.3" font-weight="bold">Planning Actions</text>
<rect x="820" y="496" width="49" height="12" fill="#dddddd"/>
<rect x="821" y="497" width="22" height="10" fill="#d9363e"/><rect x="846" y="497" width="21" height="10" fill="#d9363e"/>
<g font-size="5.5" text-anchor="middle" fill="#fff"><text x="830.5" y="462">click</text><text x="854" y="462">type</text><text x="883.5" y="462">go_back</text><text x="919.5" y="462">go_home*</text><text x="830.5" y="478">note</text><text x="854" y="478">stop</text><text x="832" y="504">branch</text><text x="856.5" y="504">prune</text></g>
<rect x="951" y="454" width="51" height="11" rx="5" fill="#666"/><text x="976.5" y="462" fill="#fff" font-size="5.5" text-anchor="middle">For Navigation</text>
<rect x="877" y="470" width="86" height="11" rx="5" fill="#666"/><text x="920" y="478" fill="#fff" font-size="5.5" text-anchor="middle">For Workflow Management</text>
<rect x="881" y="497" width="101" height="11" rx="5" fill="#666"/><text x="931.5" y="505" fill="#fff" font-size="5.5" text-anchor="middle">For Improved Decision-Making</text>
<circle cx="947" cy="460" r="1.8" fill="#111"/><circle cx="872" cy="476" r="1.8" fill="#111"/><circle cx="876" cy="502" r="1.8" fill="#111"/>
</g>

<!-- PROMPT FIGURE -->
<g font-size="5">
<text x="561" y="614" font-size="7.5" font-weight="bold">Agent</text>
<text x="558" y="625" font-size="7.5" font-weight="bold">Prompt</text>
<path d="M604 592 H599 V640 H604 M594 614 H599" stroke="#111" stroke-width="0.8" fill="none"/>
<text x="614" y="598" font-size="6" font-weight="bold">General</text>
<text x="610" y="606" font-size="6" font-weight="bold">Instruction</text>
<text x="608" y="638" font-size="6" font-weight="bold">Online Task</text>
<text x="609" y="646" font-size="6" font-weight="bold">Information</text>
<path d="M652 592 H648 V624 H652 M652 634 H648 V645 H652" stroke="#111" stroke-width="0.6" fill="none"/>
<rect x="655" y="591" width="357" height="9" fill="#eee"/>
<rect x="655" y="603" width="357" height="9" fill="#eee"/>
<rect x="655" y="615" width="357" height="9" fill="#eee"/>
<g fill="#bbb"><rect x="656" y="591.5" width="58" height="8"/><rect x="656" y="603.5" width="58" height="8"/><rect x="656" y="615.5" width="58" height="8"/></g>
<g fill="#fff"><text x="659" y="598">Task Description</text><text x="659" y="610">Output Specification</text><text x="659" y="622">Action Specification</text></g>
<g fill="#fff" stroke="#aaa" stroke-width="0.4"><rect x="729" y="592" width="282" height="7"/><rect x="729" y="604" width="282" height="7"/><rect x="729" y="616" width="282" height="7"/></g>
<text x="732" y="597.5" font-size="4.3">E.g., You are a seasoned web navigator. You need to issue an action for this step.</text>
<text x="732" y="609.5" font-size="4.3">E.g., <tspan font-weight="bold">Reason:</tspan> Provide your rationale for proposing the subsequent action commands. <tspan font-weight="bold">Action:</tspan> Select your action.</text>
<text x="732" y="621.5" font-size="4.3">E.g., click [id]: To click on an element with its numerical id on the web page.</text>
<g fill="#bbb"><rect x="657" y="635" width="19" height="10"/><rect x="678" y="635" width="28" height="10"/><rect x="708" y="635" width="8" height="10"/></g>
<g fill="#f0a21e"><rect x="718" y="635" width="68" height="10"/><rect x="788" y="635" width="68" height="10"/></g>
<g fill="#4cc3a6"><rect x="877" y="635" width="49" height="10"/><rect x="933" y="635" width="53" height="10"/></g>
<g fill="#fff" font-size="5.2"><text x="659" y="642">Step</text><text x="680" y="642">Objective</text><text x="710" y="642">...</text><text x="720" y="642">Previous Interaction</text><text x="790" y="642">Current Observation</text><text x="879" y="642">Page Length</text><text x="935" y="642">History Length</text></g>
<text x="928.5" y="642.5" font-size="6">×</text>
</g>

<!-- OBSERVATION SPACE FIGURE -->
<g font-size="5">
<text x="562" y="818" font-size="8" font-weight="bold">Observation Space Alignment</text>
<rect x="714" y="806" width="296" height="183" rx="14" fill="#cfcfcf"/>
<rect x="719" y="812" width="150" height="94" rx="11" fill="#fff"/>
<rect x="875" y="812" width="130" height="172" rx="11" fill="#fff"/>
<text x="794" y="825" font-size="6.3" font-weight="bold" text-anchor="middle">Original Web Environment Description</text>
<text x="725" y="834">RootWebArea [1] 'Wireless Headphones' [focused: True]</text>
<text x="737" y="841">link [1312] 'My Account'</text>
<text x="750" y="848">StaticText [761] 'My Account'</text>
<text x="737" y="855">link [1310] 'My Wish List 9 items'</text>
<text x="750" y="862">StaticText [762] 'My Wish List '</text>
<text x="750" y="869">StaticText [763] '9 items'</text>
<text x="737" y="876">link [1314] 'Sign Out'</text>
<text x="750" y="883">StaticText [764] 'Sign Out'</text>
<text x="737" y="890">StaticText [765] 'Welcome, Emma Lopez!'</text>
<text x="940" y="825" font-size="6.3" font-weight="bold" text-anchor="middle">Original Web Content Block</text>
<g font-size="3.8">
<text x="885" y="840">main</text><text x="895" y="845">table 'Orders'</text><text x="895" y="850">caption</text><text x="905" y="855">StaticText 'Orders'</text><text x="895" y="860">row</text>
<text x="905" y="865">columnheader 'Order #' [required: False]</text><text x="915" y="870">StaticText 'Order #'</text>
<text x="905" y="875">columnheader 'Date' [required: False]</text><text x="915" y="880">StaticText 'Date'</text>
<text x="905" y="885">columnheader 'Order Total' [required: False]</text><text x="915" y="890">StaticText 'Order Total'</text>
<text x="905" y="895">columnheader 'Status' [required: False]</text><text x="915" y="900">StaticText 'Status'</text>
<text x="905" y="905">columnheader 'Action' [required: False]</text><text x="915" y="910">StaticText 'Action'</text>
<text x="895" y="916">row</text>
<text x="905" y="921">gridcell '000000191' [required: False]</text><text x="915" y="926">StaticText '000000191'</text>
<text x="905" y="931">gridcell '6/21/24' [required: False]</text><text x="915" y="936">StaticText '6/21/24'</text>
<text x="905" y="941">gridcell '$8,368.88' [required: False]</text><text x="915" y="946">StaticText '$8,368.88'</text>
<text x="905" y="951">gridcell 'Pending' [required: False]</text><text x="915" y="956">StaticText 'Pending'</text>
<text x="905" y="961">gridcell 'View Order' [required: False]</text><text x="915" y="966">link [46850] 'View Order'</text><text x="925" y="971">StaticText 'View Order'</text>
</g>
<path d="M558 852 Q558 841 568 841 H670 Q680 841 680 851 V910 H806 Q816 910 816 920 V962 Q816 971 806 971 H568 Q558 971 558 962 Z" fill="#cfcfcf"/>
<rect x="563" y="846" width="112" height="60" rx="10" fill="#fff"/>
<rect x="563" y="913" width="250" height="54" rx="10" fill="#fff"/>
<text x="620" y="858" font-size="6.3" font-weight="bold" text-anchor="middle">Refined Web Environment</text>
<text x="620" y="866" font-size="6.3" font-weight="bold" text-anchor="middle">Description</text>
<text x="570" y="875">RootWebArea 'Wireless Headphones'</text>
<text x="582" y="882">link [1312] 'My Account'</text>
<text x="582" y="889">link [1310] 'My Wish List 9 items'</text>
<text x="582" y="896">link [1314] 'Sign Out'</text>
<text x="582" y="903">text 'Welcome, Emma Lopez!'</text>
<text x="677" y="872" font-size="6">1. Remove</text><text x="677" y="880" font-size="6">redundant text.</text>
<path d="M719 885 H679" stroke="#111" stroke-width="1.2" marker-end="url(#ar)"/>
<text x="690" y="925" font-size="6.3" font-weight="bold" text-anchor="middle">Refined Web Content Block</text>
<text x="570" y="934">table 'Orders'</text>
<text x="583" y="942">row '| Order | Date | Order Total | Status | Action |'</text>
<text x="583" y="950">row '| --- | --- | --- | --- | --- |'</text>
<text x="583" y="958">row "| 000000191 | 6/21/24 | 8,368.88 | Pending | View Order link [46850] 'View Order'"</text>
<text x="818" y="933" font-size="5.8">2. Convert HTML</text><text x="818" y="941" font-size="5.8">or accessibility</text><text x="818" y="949" font-size="5.8">tree to Markdown.</text>
<path d="M875 955 H819" stroke="#111" stroke-width="1.2" marker-end="url(#ar)"/>
<path d="M714 826 H580 V840" stroke="#111" stroke-width="2.5" fill="none"/><path d="M580 844 L577 837 L583 837 Z" fill="#111"/>
<rect x="590" y="826" width="117" height="11" rx="5.5" fill="#4cc3a6"/>
<text x="648.5" y="834.5" fill="#fff" font-size="6" font-weight="bold" text-anchor="middle">1. Simplify Web Page Elements</text>
<path d="M579 971 V993" stroke="#111" stroke-width="2.5"/><path d="M579 996 L576 989 L582 989 Z" fill="#111"/>
<rect x="586" y="974" width="103" height="18" rx="8" fill="#4cc3a6"/>
<text x="637.5" y="981.5" fill="#fff" font-size="6" font-weight="bold" text-anchor="middle">2. Selectively Replay Web</text>
<text x="637.5" y="989.5" fill="#fff" font-size="6" font-weight="bold" text-anchor="middle">Elements in One Page</text>
<path d="M753 987 V995" stroke="#111" stroke-width="2.5"/>
<rect x="736" y="976" width="124" height="11" rx="5.5" fill="#4cc3a6"/>
<text x="798" y="984.5" fill="#fff" font-size="6" font-weight="bold" text-anchor="middle">3. Selectively Replay Past Pages</text>
<path d="M860 981 Q868 981 868 990 V993" stroke="#111" stroke-width="2.5" fill="none"/><path d="M868 997 L865 990 L871 990 Z" fill="#111"/>
<rect x="559" y="995" width="216" height="85" rx="10" fill="#fff" stroke="#111" stroke-width="2"/>
<rect x="781" y="995" width="225" height="85" rx="10" fill="#fff" stroke="#111" stroke-width="2"/>
<text x="568" y="1004" font-size="4.8">RootWebArea</text>
<g stroke="#999" stroke-width="0.6" stroke-dasharray="1.5 1"><path d="M609 1003 L588 1028 M609 1003 L597 1028 M609 1003 L608 1028 M609 1003 L631 1028 M620 1030 L572 1057 M620 1030 L583 1057 M620 1030 L625 1057 M620 1030 L638 1057 M592 1057 L580 1075 M604 1057 L592 1075 M604 1057 L570 1075 M615 1057 L625 1075 M640 1057 L648 1075 M640 1057 L637 1075"/></g>
<g stroke="#111" stroke-width="0.8"><path d="M609 1003 L620 1028 M620 1030 L592 1054 M620 1030 L604 1054 M620 1030 L615 1054 M615 1057 L615 1080 M615 1057 L625 1073"/></g>
<circle cx="609" cy="1002" r="3" fill="#17527a"/><circle cx="620" cy="1030" r="3" fill="#17527a"/>
<g fill="none" stroke="#555" stroke-width="0.5" stroke-dasharray="1 0.8"><circle cx="588" cy="1030" r="2.8"/><circle cx="598" cy="1030" r="2.8"/><circle cx="609" cy="1030" r="2.8"/><circle cx="632" cy="1030" r="2.8"/><circle cx="572" cy="1057" r="2.8"/><circle cx="582" cy="1057" r="2.8"/><circle cx="628" cy="1057" r="2.8"/><circle cx="640" cy="1057" r="2.8"/><circle cx="580" cy="1076" r="2.8"/><circle cx="592" cy="1076" r="2.8"/><circle cx="603" cy="1076" r="2.8"/><circle cx="637" cy="1076" r="2.8"/><circle cx="648" cy="1076" r="2.8"/><circle cx="570" cy="1076" r="2.8"/></g>
<circle cx="592" cy="1057" r="3" fill="#4cc3a6"/><circle cx="604" cy="1057" r="3" fill="#4cc3a6"/><circle cx="615" cy="1057" r="3" fill="#f0a21e"/>
<circle cx="615" cy="1076" r="3" fill="#c8e6b0"/><circle cx="626" cy="1076" r="3" fill="#c8e6b0"/>
<text x="654" y="1011" font-size="6.3" font-weight="bold">Tree-Structured Web Elements</text>
<circle cx="662" cy="1021" r="2.5" fill="#f0a21e"/><text x="668" y="1023" font-size="5.5">Pivotal node <tspan font-size="3.8">(e.g., text 'View Order')</tspan></text>
<circle cx="662" cy="1032" r="2.5" fill="#17527a"/><text x="668" y="1034" font-size="5.5">Ancestor node <tspan font-size="3.8">(e.g., link 'My Order')</tspan></text>
<circle cx="662" cy="1043" r="2.5" fill="#4cc3a6"/><text x="668" y="1045" font-size="5.5">Sibling node <tspan font-size="3.8">(e.g., text '$742.42')</tspan></text>
<circle cx="662" cy="1054" r="2.5" fill="#c8e6b0"/><text x="668" y="1056" font-size="5.5">Descendent node <tspan font-size="3.8">(e.g., link 'View Order')</tspan></text>
<circle cx="662" cy="1065" r="2.5" fill="none" stroke="#555" stroke-width="0.5" stroke-dasharray="1 0.8"/><text x="668" y="1067" font-size="5.5">Other invisible node</text>
<text x="805" y="1006" font-size="6.3" font-weight="bold">Planning Tree</text>
<rect x="908" y="998" width="31" height="10" fill="#fff" stroke="#333" stroke-width="0.5" stroke-dasharray="1.5 1"/><text x="913" y="1005.5" font-size="5.3">Step ⋆</text><text x="945" y="1006" font-size="5.5">Invisible step</text>
<rect x="900" y="1014" width="38" height="10" fill="#f0a21e"/><text x="913" y="1021.5" font-size="5.3" fill="#fff">Step ⋆</text><text x="945" y="1022" font-size="5.5">Visible step</text>
<g fill="#d9363e"><rect x="784" y="1014" width="40" height="11"/><rect x="800" y="1031" width="40" height="11"/><rect x="800" y="1048" width="40" height="11"/><rect x="817" y="1064" width="60" height="11"/></g>
<g fill="#fff" font-size="5.8"><text x="798" y="1022">Plan 0</text><text x="814" y="1039">Subplan 1</text><text x="814" y="1056">Subplan 2</text><text x="832" y="1072">Subsubplan 3</text></g>
<path d="M788 1025 V1036 H798 M788 1036 V1053 H798 M804 1059 V1069 H815" stroke="#111" stroke-width="0.6" fill="none"/>
<g fill="#e6e6e6"><rect x="835" y="1014" width="45" height="11"/><rect x="862" y="1031" width="140" height="11"/><rect x="862" y="1048" width="40" height="11"/><rect x="892" y="1064" width="93" height="11"/></g>
<g fill="none" stroke="#333" stroke-width="0.5" stroke-dasharray="1.5 1"><rect x="840" y="1015" width="37" height="9"/><rect x="868" y="1032" width="37" height="9"/><rect x="912" y="1032" width="41" height="9"/><rect x="958" y="1032" width="41" height="9"/><rect x="867" y="1049" width="35" height="9"/></g>
<g font-size="5.5"><text x="855" y="1022">Step 0</text><text x="883" y="1039">Step 1</text><text x="928" y="1039">Step 2</text><text x="973" y="1039">Step 3</text><text x="882" y="1056">Step 4</text></g>
<g fill="#f0a21e"><rect x="896" y="1065" width="40" height="9"/><rect x="941" y="1065" width="40" height="9"/><rect x="937" y="1047" width="57" height="12" rx="6"/></g>
<g font-size="5.5" fill="#fff"><text x="911" y="1072">Step 5</text><text x="956" y="1072">Step 6</text><text x="944" y="1055.5" font-weight="bold">Current step</text></g>
<path d="M824 1019 H835 M840 1036 H862 M840 1053 H862 M877 1069 H892" stroke="#111" stroke-width="0.7"/>
<path d="M961 1059 L958 1065 L964 1065 Z" fill="#111"/>
</g>

<!-- TABLE 1 -->
<g font-family="Liberation Serif, serif" font-size="8.6">
<path d="M1069 405.5 H1535" stroke="#111" stroke-width="1"/>
<path d="M1069 433.5 H1535" stroke="#111" stroke-width="0.8"/>
<path d="M1069 485.5 H1535" stroke="#111" stroke-width="0.8"/>
<path d="M1069 497.5 H1535" stroke="#111" stroke-width="1"/>
<text x="1070" y="418">Agent</text>
<g text-anchor="middle"><text x="1185" y="418">Model</text><text x="1234" y="418">SR (%)</text><text x="1273" y="418">Shopping</text><text x="1321" y="418">Shopping Admin</text><text x="1389" y="418">GitLab</text><text x="1427" y="418">Map</text><text x="1462" y="418">Reddit</text><text x="1501" y="418">Multisite</text>
<text x="1234" y="430">(#812)</text><text x="1273" y="430">(#187)</text><text x="1321" y="430">(#182)</text><text x="1389" y="430">(#180)</text><text x="1427" y="430">(#109)</text><text x="1462" y="430">(#106)</text><text x="1501" y="430">(#48)</text></g>
<text x="1070" y="444">WebArena-replication</text><text x="1070" y="456">SteP-replication</text><text x="1070" y="469">AWM</text><text x="1070" y="481">WebPilot</text><text x="1070" y="494">A<tspan font-size="6.8">GENT</tspan>O<tspan font-size="6.8">CCAM</tspan></text>
<g text-anchor="middle">
<text x="1185" y="444">GPT-4-Turbo</text><text x="1234" y="444">16.5</text><text x="1273" y="444">16.6</text><text x="1321" y="444">15.9</text><text x="1389" y="444">10.0</text><text x="1427" y="444">22.9</text><text x="1462" y="444">21.7</text><text x="1501" y="444">16.7</text>
<text x="1185" y="456">GPT-4-Turbo</text><text x="1234" y="456">33.3</text><text x="1273" y="456">33.2</text><text x="1321" y="456">32.4</text><text x="1389" y="456">26.7</text><text x="1427" y="456">35.8</text><text x="1462" y="456">52.8</text><text x="1501" y="456">12.5</text>
<text x="1185" y="469">GPT-4</text><text x="1234" y="469">35.5</text><text x="1273" y="469">-</text><text x="1321" y="469">-</text><text x="1389" y="469">-</text><text x="1427" y="469">-</text><text x="1462" y="469">-</text><text x="1501" y="469">-</text>
<text x="1185" y="481">GPT-4o</text><text x="1234" y="481">37.2</text><text x="1273" y="481">-</text><text x="1321" y="481">-</text><text x="1389" y="481">-</text><text x="1427" y="481">-</text><text x="1462" y="481">-</text><text x="1501" y="481">-</text>
<text x="1185" y="494">GPT-4-Turbo</text>
<g font-weight="bold"><text x="1234" y="494">43.1</text><text x="1273" y="494">40.6</text><text x="1321" y="494">45.6</text><text x="1389" y="494">37.8</text><text x="1427" y="494">46.8</text><text x="1462" y="494">61.3</text><text x="1501" y="494">14.6</text></g>
</g></g>

<!-- CHART -->
<g font-family="Liberation Serif, serif">
<rect x="1125" y="598" width="360" height="27" fill="#fff" stroke="#ccc" stroke-width="0.6"/>
<g font-size="7.5">
<rect x="1128" y="602" width="15" height="6" fill="#1c2a27"/><text x="1151" y="608">Vanilla</text>
<rect x="1128" y="614" width="15" height="6" fill="#453a35"/><text x="1151" y="620">↓ Actions</text>
<rect x="1206" y="602" width="15" height="6" fill="#5f716b"/><text x="1229" y="608">Above + X Scrolling</text>
<rect x="1206" y="614" width="15" height="6" fill="#c87657"/><text x="1229" y="620">Above + Obs Opt.</text>
<rect x="1326" y="602" width="15" height="6" fill="#8a6a5e"/><text x="1349" y="608">Above + History</text>
<rect x="1326" y="614" width="15" height="6" fill="#4dbfa3"/><text x="1349" y="620">AgentOccam (Above + Planning)</text>
</g>
<rect x="1088" y="632" width="447" height="43" fill="#fff" stroke="#111" stroke-width="0.8"/>
<path d="M1088 641 H1535" stroke="#aaa" stroke-width="0.6"/>
<text x="1080" y="644" font-size="7" text-anchor="end">50</text>
<text x="1080" y="678" font-size="7" text-anchor="end">0</text>
<text transform="translate(1072 680) rotate(-90)" font-size="7">Success Rate</text>
<g fill="#1c2a27"><rect x="1108.4" y="663.8" width="8" height="11.2"/><rect x="1166.4" y="663.7" width="8" height="11.3"/><rect x="1224.4" y="664.2" width="8" height="10.8"/><rect x="1282.4" y="668.2" width="8" height="6.8"/><rect x="1339.4" y="659.4" width="8" height="15.6"/><rect x="1397.4" y="660.2" width="8" height="14.8"/><rect x="1455.4" y="663.6" width="8" height="11.4"/></g>
<g fill="#453a35"><rect x="1116.6" y="657.3" width="8" height="17.7"/><rect x="1174.6" y="659" width="8" height="16"/><rect x="1232.6" y="659" width="8" height="16"/><rect x="1290.6" y="658.3" width="8" height="16.7"/><rect x="1347.6" y="651.2" width="8" height="23.8"/><rect x="1405.6" y="652.6" width="8" height="22.4"/><rect x="1463.6" y="666.5" width="8" height="8.5"/></g>
<g fill="#5f716b"><rect x="1124.8" y="653.6" width="8" height="21.4"/><rect x="1182.8" y="657.3" width="8" height="17.7"/><rect x="1240.8" y="658" width="8" height="17"/><rect x="1298.8" y="651.2" width="8" height="23.8"/><rect x="1355.8" y="652.6" width="8" height="22.4"/><rect x="1413.8" y="639" width="8" height="36"/><rect x="1471.8" y="665.1" width="8" height="9.9"/></g>
<g fill="#c87657"><rect x="1133" y="649.8" width="8" height="25.2"/><rect x="1191" y="650.5" width="8" height="24.5"/><rect x="1249" y="649.5" width="8" height="25.5"/><rect x="1307" y="656.8" width="8" height="18.2"/><rect x="1364" y="644.4" width="8" height="30.6"/><rect x="1422" y="635.9" width="8" height="39.1"/><rect x="1480" y="663.8" width="8" height="11.2"/></g>
<g fill="#8a6a5e"><rect x="1141.2" y="649.2" width="8" height="25.8"/><rect x="1199.2" y="651.9" width="8" height="23.1"/><rect x="1257.2" y="647.8" width="8" height="27.2"/><rect x="1315.2" y="653.6" width="8" height="21.4"/><rect x="1372.2" y="640.7" width="8" height="34.3"/><rect x="1430.2" y="640" width="8" height="35"/><rect x="1488.2" y="665.1" width="8" height="9.9"/></g>
<g fill="#4dbfa3"><rect x="1149.4" y="645.7" width="8" height="29.3"/><rect x="1207.4" y="647.4" width="8" height="27.6"/><rect x="1265.4" y="644" width="8" height="31"/><rect x="1323.4" y="649.3" width="8" height="25.7"/><rect x="1380.4" y="643.2" width="8" height="31.8"/><rect x="1438.4" y="633.3" width="8" height="41.7"/><rect x="1496.4" y="665.1" width="8" height="9.9"/></g>
<g font-size="8" text-anchor="middle"><text x="1133" y="687">All</text><text x="1191" y="687">Shopping</text><text x="1249" y="687">Shopping admin</text><text x="1307" y="687">Gitlab</text><text x="1364" y="687">Map</text><text x="1422" y="687">Reddit</text><text x="1480" y="687">Multisite</text></g>
</g>

<!-- TABLE 2 -->
<g font-family="Liberation Serif, serif" font-size="5.6">
<path d="M1125 743.5 H1465" stroke="#111" stroke-width="0.8"/>
<path d="M1125 762.5 H1465" stroke="#111" stroke-width="0.6"/>
<path d="M1125 791.5 H1465" stroke="#111" stroke-width="0.8"/>
<text x="1127" y="751">Agent</text>
<g text-anchor="middle"><text x="1218" y="751">Model</text><text x="1253" y="751">SR (%)</text><text x="1285" y="751">Shopping</text><text x="1318" y="751">Shopping Admin</text><text x="1366" y="751">GitLab</text><text x="1393" y="751">Map</text><text x="1420" y="751">Reddit</text><text x="1448" y="751">Multisite</text>
<text x="1253" y="760">(#812)</text><text x="1285" y="760">(#187)</text><text x="1318" y="760">(#182)</text><text x="1366" y="760">(#180)</text><text x="1393" y="760">(#109)</text><text x="1420" y="760">(#106)</text><text x="1448" y="760">(#48)</text></g>
<text x="1127" y="770">A<tspan font-size="4.5">GENT</tspan>O<tspan font-size="4.5">CCAM</tspan></text>
<text x="1127" y="779">A<tspan font-size="4.5">GENT</tspan>O<tspan font-size="4.5">CCAM</tspan> + SteP</text>
<text x="1127" y="788">A<tspan font-size="4.5">GENT</tspan>O<tspan font-size="4.5">CCAM</tspan> + Judge</text>
<g text-anchor="middle">
<text x="1218" y="770">GPT-4-Turbo</text><text x="1253" y="770">43.1</text><text x="1285" y="770">40.6</text><text x="1318" y="770">45.6</text><text x="1366" y="770">37.8</text><text x="1393" y="770">46.8</text><text x="1420" y="770">61.3</text><text x="1448" y="770">14.6</text>
<text x="1218" y="779">GPT-4-Turbo</text><text x="1253" y="779">41.1</text><text x="1285" y="779" font-weight="bold">46.5</text><text x="1318" y="779">36.3</text><text x="1366" y="779">36.7</text><text x="1393" y="779">47.7</text><text x="1420" y="779">50.9</text><text x="1448" y="779" font-weight="bold">18.8</text>
<text x="1218" y="788">GPT-4-Turbo</text><text x="1253" y="788" font-weight="bold">45.7</text><text x="1285" y="788">43.3</text><text x="1318" y="788" font-weight="bold">46.2</text><text x="1366" y="788" font-weight="bold">38.9</text><text x="1393" y="788" font-weight="bold">52.3</text><text x="1420" y="788" font-weight="bold">67.0</text><text x="1448" y="788">16.7</text>
</g></g>
</svg>

</div></body></html>
